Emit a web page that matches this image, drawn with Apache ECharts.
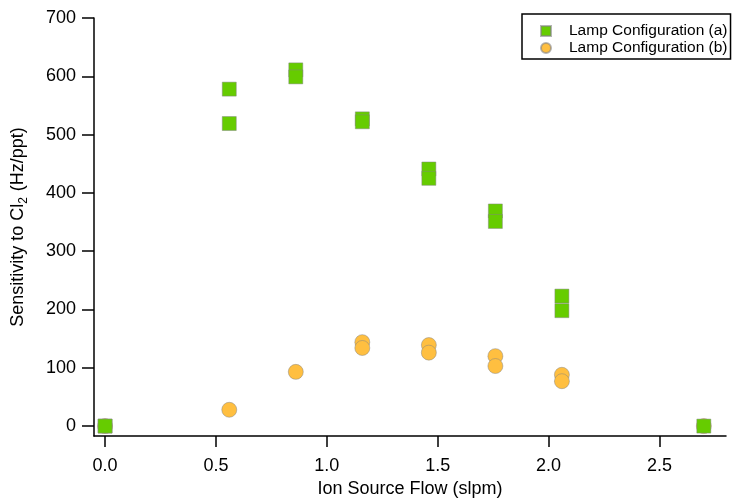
<!DOCTYPE html>
<html>
<head>
<meta charset="utf-8">
<script src="https://cdn.jsdelivr.net/npm/echarts@6/dist/echarts.min.js"></script>
<style>
  html, body { margin: 0; padding: 0; background: #fff; }
  #main { width: 735px; height: 498px; }
</style>
</head>
<body>
<div id="main"></div>
<script>
// flow (slpm) and sensitivity (Hz/ppt)
const flowA = [0, 0, 0.56, 0.56, 0.86, 0.86, 1.16, 1.16, 1.46, 1.46, 1.76, 1.76, 2.06, 2.06, 2.7];
const sensA = [0, 0, 578, 519, 611, 599, 527, 522, 441, 425, 369, 351, 223, 198, 0];
const flowB = [0, 0.56, 0.86, 1.16, 1.16, 1.46, 1.46, 1.76, 1.76, 2.06, 2.06, 2.7];
const sensB = [0, 28, 93, 144, 134, 139, 126, 120, 103, 88, 77, 0];

const xTicks = [0, 0.5, 1.0, 1.5, 2.0, 2.5];
const yTicks = [0, 100, 200, 300, 400, 500, 600, 700];

const font = 'Liberation Sans, Arial, sans-serif';

const pairs = (xs, ys) => xs.map((x, i) => [x, ys[i]]);

var myChart = echarts.init(document.getElementById('main'));

myChart.setOption({
  animation: false,
  textStyle: { fontFamily: font },
  grid: { left: 94, right: 9, top: 18, bottom: 62, outerBoundsMode: 'none' },
  legend: {
    orient: 'vertical',
    left: 522,
    top: 14,
    padding: [9, 3, 3, 18],
    itemWidth: 10,
    itemHeight: 10,
    itemGap: 1,
    borderColor: '#000',
    borderWidth: 1.5,
    backgroundColor: '#fff',
    textStyle: { fontFamily: font, fontSize: 15.5, lineHeight: 16, color: '#000', padding: [0, 0, 0, 13] },
    data: [
      { name: 'Lamp Configuration (a)', icon: 'rect' },
      { name: 'Lamp Configuration (b)', icon: 'circle' }
    ]
  },
  xAxis: {
    type: 'value',
    min: -0.05,
    max: 2.8,
    name: 'Ion Source Flow (slpm)',
    nameLocation: 'middle',
    nameGap: 43,
    nameTextStyle: { fontFamily: font, fontSize: 18, color: '#000' },
    axisLine: { show: true, onZero: false, lineStyle: { color: '#000', width: 1.5 } },
    axisTick: { show: true, length: 11, customValues: xTicks, lineStyle: { color: '#000', width: 1.5 } },
    axisLabel: {
      customValues: xTicks,
      margin: 21,
      fontSize: 18,
      color: '#000',
      fontFamily: font,
      formatter: (v) => v.toFixed(1)
    },
    splitLine: { show: false }
  },
  yAxis: {
    type: 'value',
    min: -17,
    max: 700,
    name: '{n|Sensitivity to Cl}{s|2}{n| (Hz/ppt)}',
    nameLocation: 'middle',
    nameGap: 64,
    nameRotate: 90,
    nameTextStyle: {
      fontFamily: font,
      color: '#000',
      rich: {
        n: { fontSize: 18, fontFamily: font, color: '#000', lineHeight: 24, verticalAlign: 'middle' },
        s: { fontSize: 12, fontFamily: font, color: '#000', lineHeight: 24, verticalAlign: 'bottom', padding: [0, 1, 0, 0] }
      }
    },
    axisLine: { show: true, onZero: false, lineStyle: { color: '#000', width: 1.5 } },
    axisTick: { show: true, length: 12, customValues: yTicks, lineStyle: { color: '#000', width: 1.5 } },
    axisLabel: {
      customValues: yTicks,
      margin: 18,
      fontSize: 18,
      color: '#000',
      fontFamily: font
    },
    splitLine: { show: false }
  },
  series: [
    {
      name: 'Lamp Configuration (b)',
      type: 'scatter',
      symbol: 'circle',
      symbolSize: 15,
      z: 2,
      itemStyle: { color: '#ffbf40', borderColor: 'rgba(130,130,130,0.6)', borderWidth: 0.8, opacity: 1 },
      data: pairs(flowB, sensB)
    },
    {
      name: 'Lamp Configuration (a)',
      type: 'scatter',
      symbol: 'rect',
      symbolSize: 14,
      z: 3,
      itemStyle: { color: '#66cc00', borderColor: 'rgba(130,130,130,0.6)', borderWidth: 0.8, opacity: 1 },
      data: pairs(flowA, sensA)
    }
  ]
});
</script>
</body>
</html>
